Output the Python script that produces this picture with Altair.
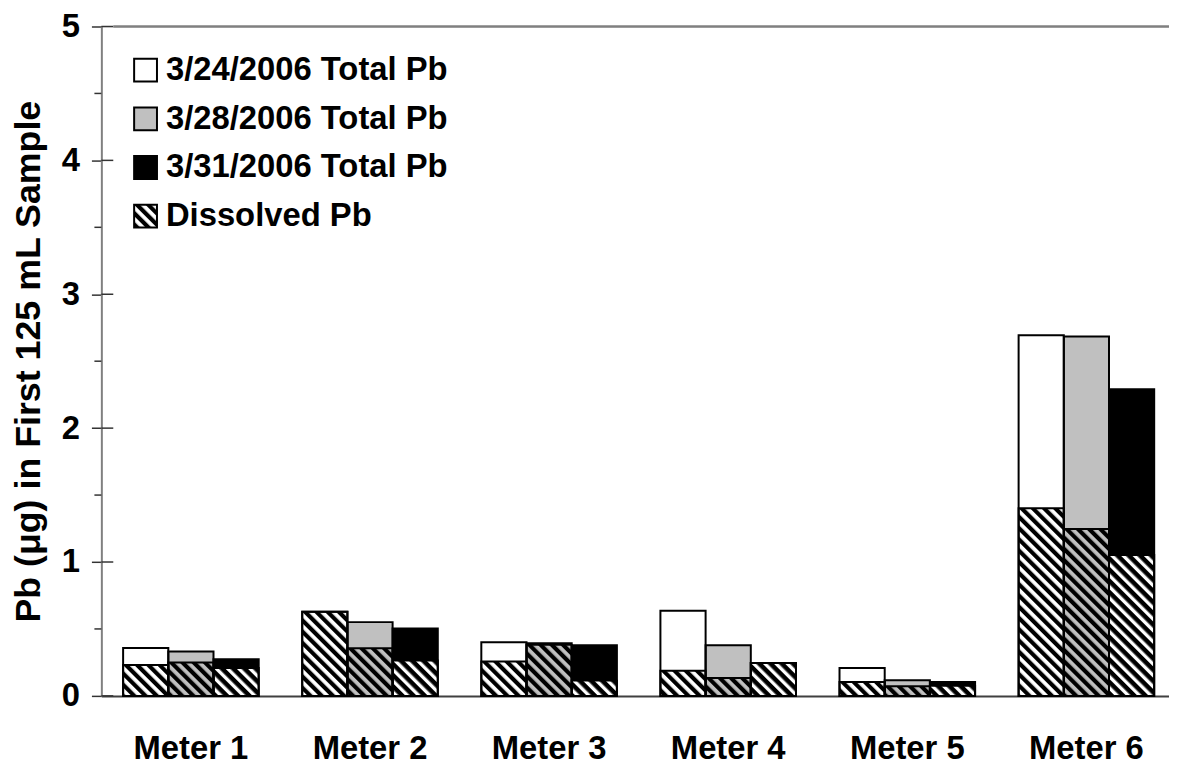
import base64
import altair as alt
import pandas as pd

# ---------------- data ----------------
meters = ["Meter 1", "Meter 2", "Meter 3", "Meter 4", "Meter 5", "Meter 6"]
dates = ["3/24/2006", "3/28/2006", "3/31/2006"]

total_0324 = [0.358, 0.628, 0.400, 0.636, 0.208, 2.693]
total_0328 = [0.332, 0.551, 0.393, 0.378, 0.116, 2.685]
total_0331 = [0.274, 0.504, 0.378, 0.245, 0.104, 2.290]

diss_0324 = [0.230, 0.628, 0.257, 0.188, 0.104, 1.402]
diss_0328 = [0.250, 0.356, 0.381, 0.134, 0.072, 1.246]
diss_0331 = [0.208, 0.265, 0.114, 0.245, 0.075, 1.053]

legend_labels = ["3/24/2006 Total Pb", "3/28/2006 Total Pb", "3/31/2006 Total Pb", "Dissolved Pb"]
y_major = [0, 1, 2, 3, 4, 5]
y_minor = [0.5, 1.5, 2.5, 3.5, 4.5]
y_title = "Pb (\u03bcg) in First 125 mL Sample"

# ---------------- styling helpers ----------------
FONT = "Liberation Sans"
FS = 33
fills = ["#ffffff", "#c0c0c0", "#000000"]
color_scale = alt.Scale(domain=dates, range=fills)


def hatch_url(bg, fg, stripe):
    svg = ('<svg xmlns="http://www.w3.org/2000/svg">'
           '<defs><pattern id="h" width="8" height="8" patternUnits="userSpaceOnUse" '
           'patternTransform="rotate(-45)">'
           f'<rect width="8" height="8" fill="{bg}"/><rect width="{stripe}" height="8" fill="{fg}"/>'
           '</pattern></defs><rect width="100%" height="100%" fill="url(#h)"/></svg>')
    return "data:image/svg+xml;base64," + base64.b64encode(svg.encode()).decode()


hatch_for = {
    dates[0]: hatch_url("#ffffff", "#000000", 4.2),
    dates[1]: hatch_url("#c0c0c0", "#000000", 4.2),
    dates[2]: hatch_url("#000000", "#ffffff", 3.4),
}

rows = []
for d, tot, dis in zip(dates, [total_0324, total_0328, total_0331], [diss_0324, diss_0328, diss_0331]):
    for m, t, s in zip(meters, tot, dis):
        rows.append({"meter": m, "date": d, "total": t, "dissolved": s, "url": hatch_for[d]})
df = pd.DataFrame(rows)

W, H = 1075, 674

x_enc = alt.X("meter:N", sort=meters,
              scale=alt.Scale(range=[0, 1082], paddingInner=0.243, paddingOuter=0.1215),
              axis=alt.Axis(title=None, labelAngle=0, ticks=False, labelPadding=37,
                            labelFont=FONT, labelFontSize=FS, labelFontWeight="bold",
                            labelColor="black", domainColor="#404040", domainWidth=2))
xo_enc = alt.XOffset("date:N", sort=dates, scale=alt.Scale(paddingInner=0, paddingOuter=0))
y_scale = alt.Scale(domain=[0, 5], nice=False)
y_axis = alt.Axis(values=y_major, tickSize=10, tickColor="#333333", tickWidth=1.5,
                  labelPadding=12, labelFont=FONT, labelFontSize=FS,
                  labelFontWeight="bold", labelColor="black",
                  domainColor="#808080", domainWidth=2, grid=False,
                  title=y_title, titleFont=FONT, titleFontSize=36,
                  titleFontWeight="bold", titleColor="black", titlePadding=14)


def yq(field):
    return alt.Y(f"{field}:Q", scale=y_scale, axis=y_axis)


base = alt.Chart(df)

total_fill = base.mark_bar(strokeWidth=0).encode(
    x=x_enc, xOffset=xo_enc, y=yq("total"),
    fill=alt.Fill("date:N", scale=color_scale, legend=None),
)

diss_img = base.mark_image(aspect=False).encode(
    x=x_enc, xOffset=xo_enc, y=yq("dissolved"), y2=alt.datum(0), url="url:N",
)

diss_outline = base.mark_bar(fillOpacity=0, stroke="black", strokeWidth=2).encode(
    x=x_enc, xOffset=xo_enc, y=yq("dissolved"),
)

total_outline = base.mark_bar(fillOpacity=0, stroke="black", strokeWidth=2).encode(
    x=x_enc, xOffset=xo_enc, y=yq("total"),
)

minor_ticks = alt.Chart(pd.DataFrame({"total": y_minor})).mark_rule(
    color="#333333", strokeWidth=1.5).encode(y=yq("total"), x=alt.value(-7), x2=alt.value(0))

inner_ticks = alt.Chart(pd.DataFrame({"total": y_major})).mark_rule(
    color="#333333", strokeWidth=1.5).encode(y=yq("total"), x=alt.value(0), x2=alt.value(12))

top_line = alt.Chart(pd.DataFrame({"total": [5]})).mark_rule(
    color="#808080", strokeWidth=2.5).encode(y=yq("total"), x=alt.value(12), x2=alt.value(W))

layers = [total_fill, diss_img, diss_outline, total_outline, minor_ticks, inner_ticks, top_line]

# ---------------- legend (manual, pixel layout) ----------------
ROW0, STEP, BOX = 44, 49, 23
SW_X0, SW_X1, TXT_X = 33, 56, 65
for i, lab in enumerate(legend_labels):
    cy = ROW0 + i * STEP
    one = alt.Chart(pd.DataFrame({"label": [lab], "date": [dates[i] if i < 3 else dates[0]],
                                  "url": [hatch_for[dates[0]]]}))
    if i < 3:
        layers.append(one.mark_rect(strokeWidth=0).encode(
            x=alt.value(SW_X0), x2=alt.value(SW_X1),
            y=alt.value(cy - BOX / 2), y2=alt.value(cy + BOX / 2),
            fill=alt.Fill("date:N", scale=color_scale, legend=None)))
    else:
        layers.append(one.mark_image(aspect=False).encode(
            x=alt.value(SW_X0), x2=alt.value(SW_X1),
            y=alt.value(cy - BOX / 2), y2=alt.value(cy + BOX / 2), url="url:N"))
    layers.append(one.mark_rect(fillOpacity=0, stroke="black", strokeWidth=2).encode(
        x=alt.value(SW_X0), x2=alt.value(SW_X1),
        y=alt.value(cy - BOX / 2), y2=alt.value(cy + BOX / 2)))
    layers.append(one.mark_text(align="left", baseline="middle", font=FONT, fontSize=FS,
                                fontWeight="bold", color="black").encode(
        x=alt.value(TXT_X), y=alt.value(cy), text="label:N"))

chart = alt.layer(*layers).properties(
    width=W, height=H,
    autosize=alt.AutoSizeParams(type="none"),
    padding={"left": 94, "top": 16, "right": 0, "bottom": 72},
).configure_view(stroke="transparent").configure(background="white")

chart.save("out.html", embed_options={"renderer": "svg", "actions": False})
